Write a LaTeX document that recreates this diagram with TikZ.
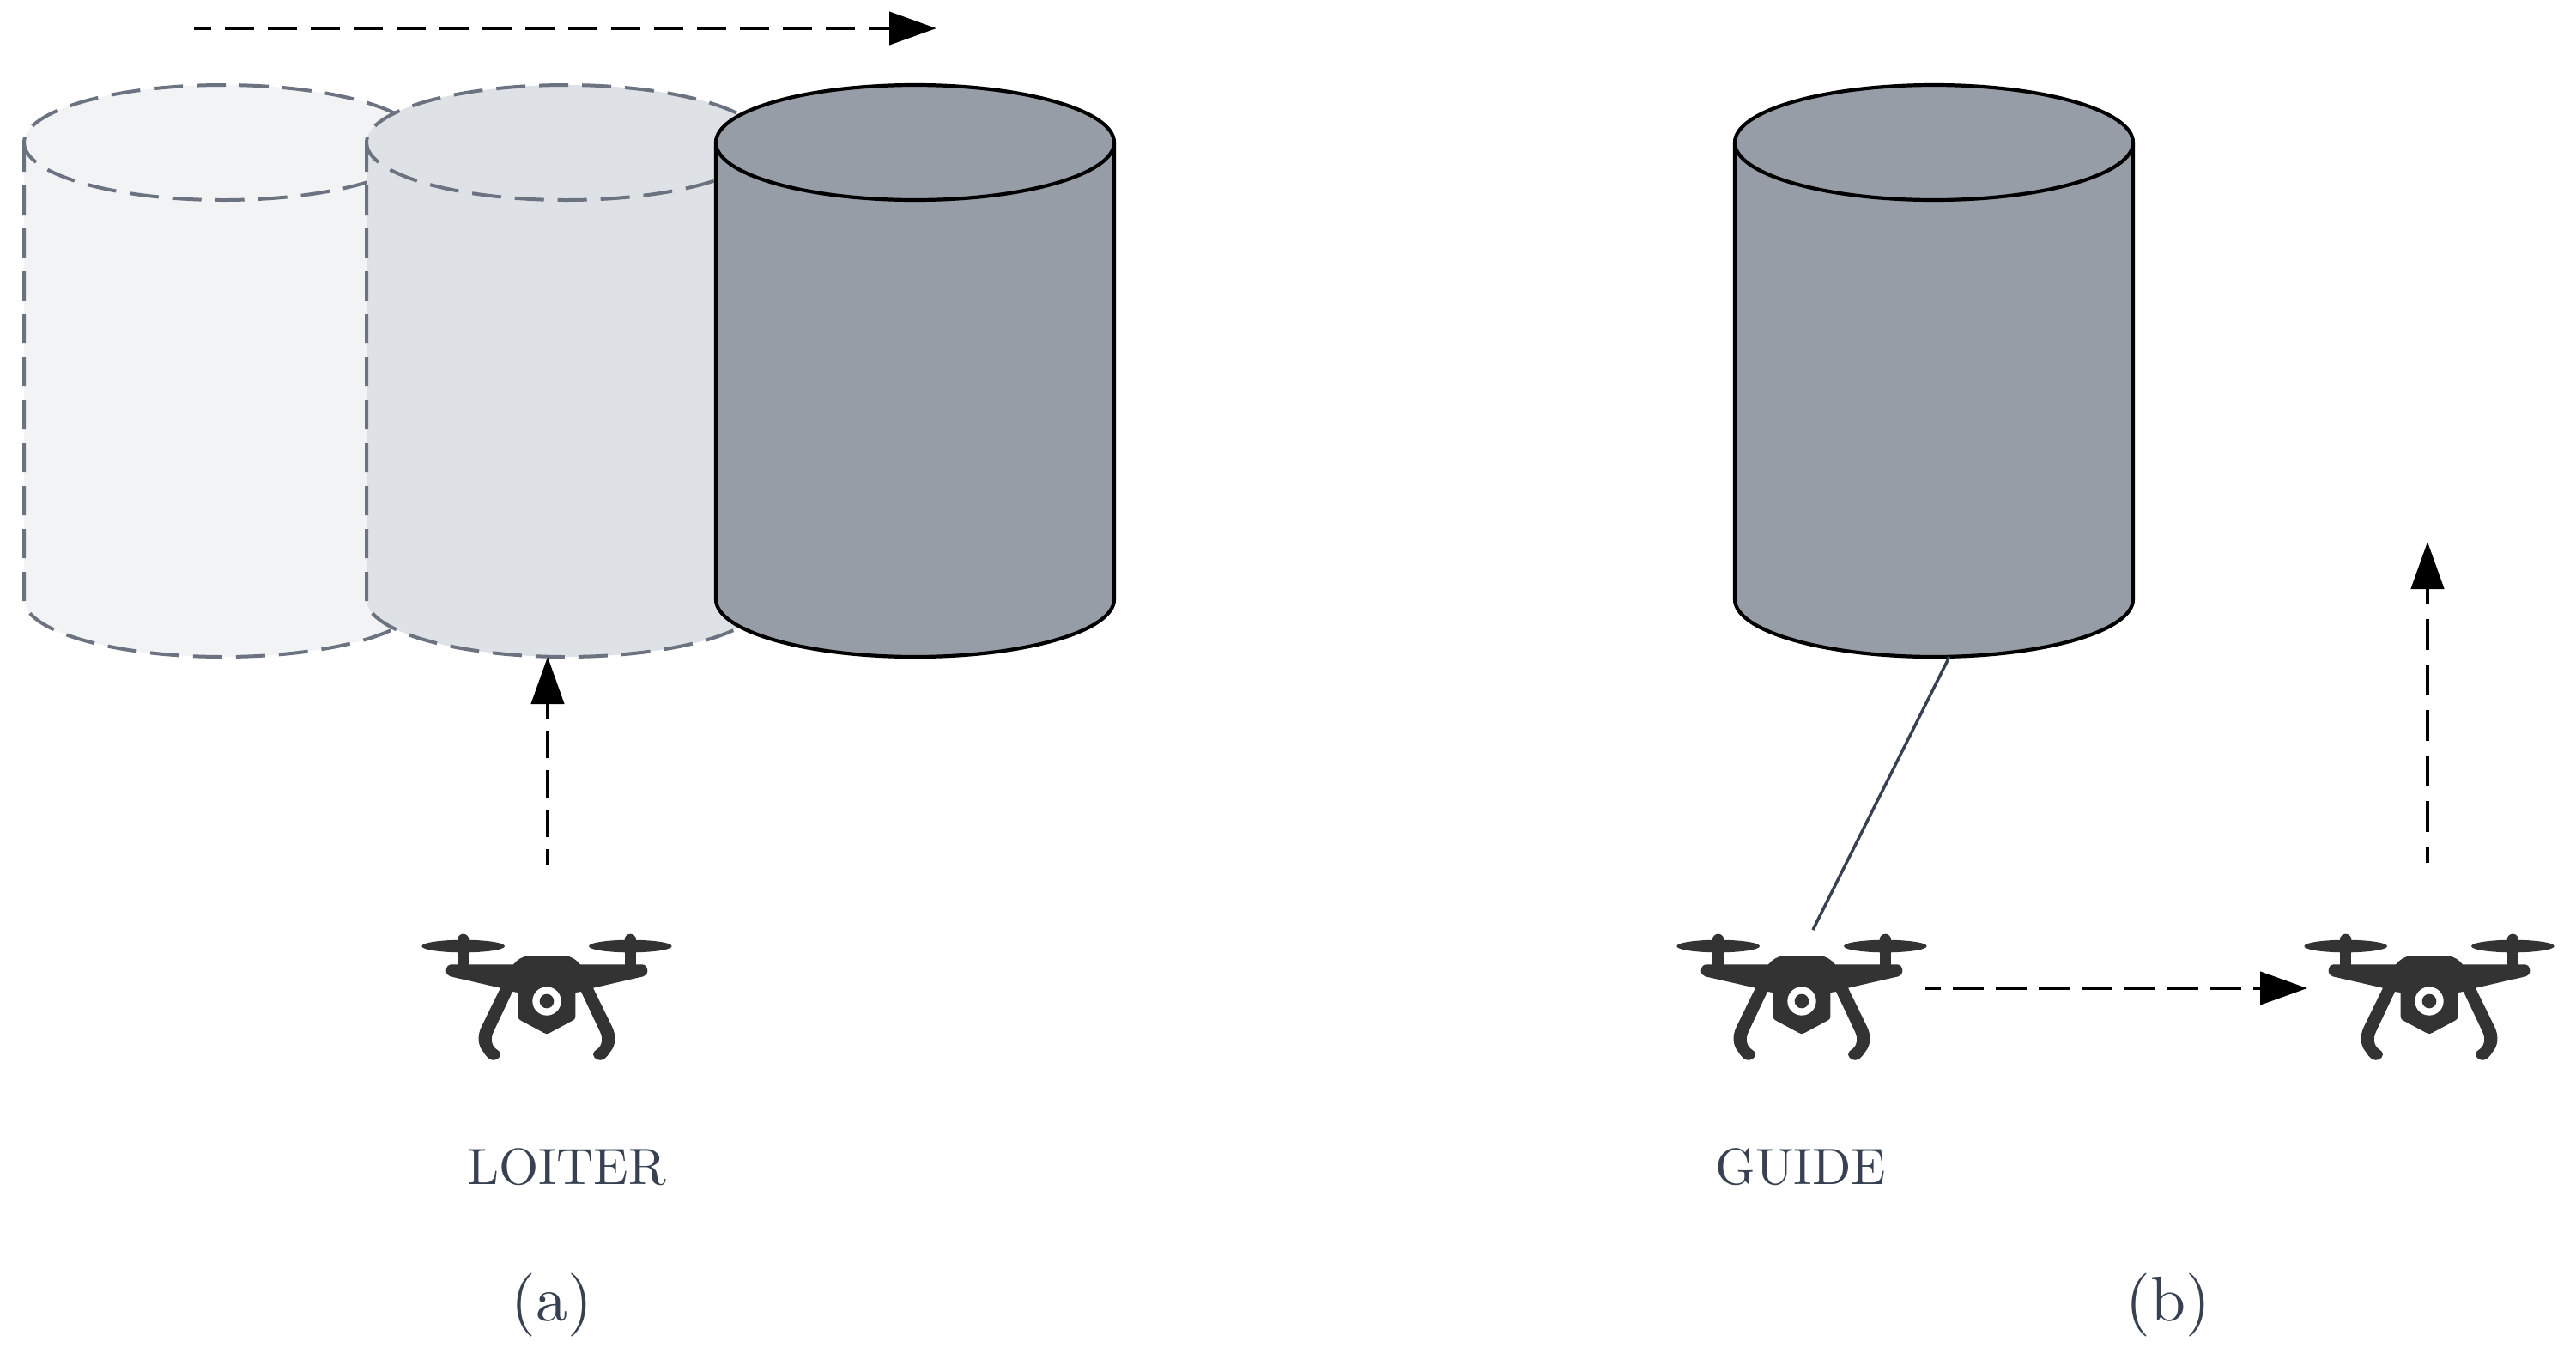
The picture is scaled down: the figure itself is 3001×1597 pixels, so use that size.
\documentclass[tikz,border=0pt]{standalone}
\usetikzlibrary{arrows.meta}
\definecolor{txt}{HTML}{374151}
\definecolor{ghostline}{HTML}{6B7280}
\definecolor{fillA}{HTML}{F2F3F5}
\definecolor{fillB}{HTML}{DEE1E6}
\definecolor{fillC}{HTML}{979DA6}
\definecolor{dronec}{HTML}{333333}
\font\lmlabel="[lmroman10-regular]" at 16.9pt
\font\lmsub="[lmroman10-regular]" at 21pt
\tikzset{
  ghost/.style={draw=ghostline,line width=0.4mm,dash pattern=on 3.4mm off 1.6mm},
  solidcyl/.style={draw=black,line width=0.42mm},
  move/.style={draw=black,line width=0.45mm,
    -{Triangle[length=5.5mm,width=3.8mm]}},
  tie/.style={draw=txt,line width=0.35mm},
  modelabel/.style={text=txt,anchor=base,inner sep=0pt,font=\lmlabel},
  sublabel/.style={text=txt,anchor=base,inner sep=0pt,font=\lmsub},
  drone/.pic={
    \begin{scope}[xscale=1/3,yscale=-1/3]
      \foreach \s in {1,-1}{
        \begin{scope}[xscale=\s]
          \fill[dronec] (-292,-174) ellipse (145 and 22);
          \fill[dronec] (-312,-100) rectangle (-272,-197);
          \fill[dronec] (-292,-197) circle (20);
          \fill[dronec] (2,-140) -- (-62,-140)
            .. controls (-85,-140) and (-105,-125) .. (-117,-110)
            -- (-334,-110) .. controls (-346,-110) and (-352,-98) .. (-352,-88)
            .. controls (-352,-78) and (-345,-70) .. (-337,-68)
            -- (-162,-28) -- (-227,105)
            .. controls (-245,140) and (-240,175) .. (-222,195)
            .. controls (-215,207) and (-205,218) .. (-197,222)
            .. controls (-185,228) and (-165,222) .. (-162,205)
            .. controls (-162,195) and (-170,190) .. (-175,187)
            .. controls (-196,172) and (-196,145) .. (-186,125)
            -- (-120,-15) -- (-100,-12) -- (-100,70)
            .. controls (-100,78) and (-97,83) .. (-92,85)
            -- (-12,128) .. controls (-5,132) and (0,132) .. (2,132) -- cycle;
        \end{scope}
      }
      \fill[white] (0,18) circle (50);
      \fill[dronec] (0,18) circle (25);
    \end{scope}
  }
}
% #1 centre x, #2 fill, #3 stroke style
\newcommand{\cyl}[3]{
  \fill[#2] (#1-232,-166) arc[start angle=180,end angle=0,x radius=23.2mm,y radius=6.7mm]
    -- (#1+232,-698) arc[start angle=0,end angle=-180,x radius=23.2mm,y radius=6.7mm] -- cycle;
  \draw[#3] (#1-232,-166) -- (#1-232,-698) arc[start angle=180,end angle=360,x radius=23.2mm,y radius=6.7mm] -- (#1+232,-166);
  \draw[#3] (#1,-166) ellipse (23.2mm and 6.7mm);
}
\begin{document}
\begin{tikzpicture}[x=0.1mm,y=0.1mm]
\useasboundingbox (0,0) rectangle (3001,-1597);
% cylinders
\cyl{260}{fillA}{ghost}
\cyl{659}{fillB}{ghost}
\cyl{1066}{fillC}{solidcyl}
\cyl{2253}{fillC}{solidcyl}
% drones
\pic (droneA) at (637,-1160) {drone};
\pic (droneB) at (2099,-1160) {drone};
\pic (droneC) at (2830,-1160) {drone};
% named ends
\coordinate (topS) at (226,-33);
\coordinate (topE) at (1091,-33);
\coordinate (upAS) at (638,-1007);
\coordinate (upAE) at (638,-765);
\coordinate (tieS) at (2271,-765);
\coordinate (tieE) at (2112,-1083);
\coordinate (sideS) at (2243,-1151);
\coordinate (sideE) at (2688,-1151);
\coordinate (upCS) at (2828,-1005);
\coordinate (upCE) at (2828,-631);
\draw[move,dash pattern=on 3.4mm off 1.6mm,dash phase=1.4mm] (topS) -- (topE);
\draw[move,dash pattern=on 3.2mm off 1.4mm,dash phase=1.4mm] (upAS) -- (upAE);
\draw[tie] (tieS) -- (tieE);
\draw[move,dash pattern=on 3.6mm off 1.4mm,dash phase=1.8mm] (sideS) -- (sideE);
\draw[move,dash pattern=on 3.6mm off 1.7mm,dash phase=1.7mm] (upCS) -- (upCE);
% labels
\node[modelabel] (loiter) at (660,-1379) {LOITER};
\node[modelabel] (guide) at (2098,-1379) {GUIDE};
\node[sublabel] (suba) at (643,-1538) {(a)};
\node[sublabel] (subb) at (2526,-1538) {(b)};
\end{tikzpicture}
\end{document}
